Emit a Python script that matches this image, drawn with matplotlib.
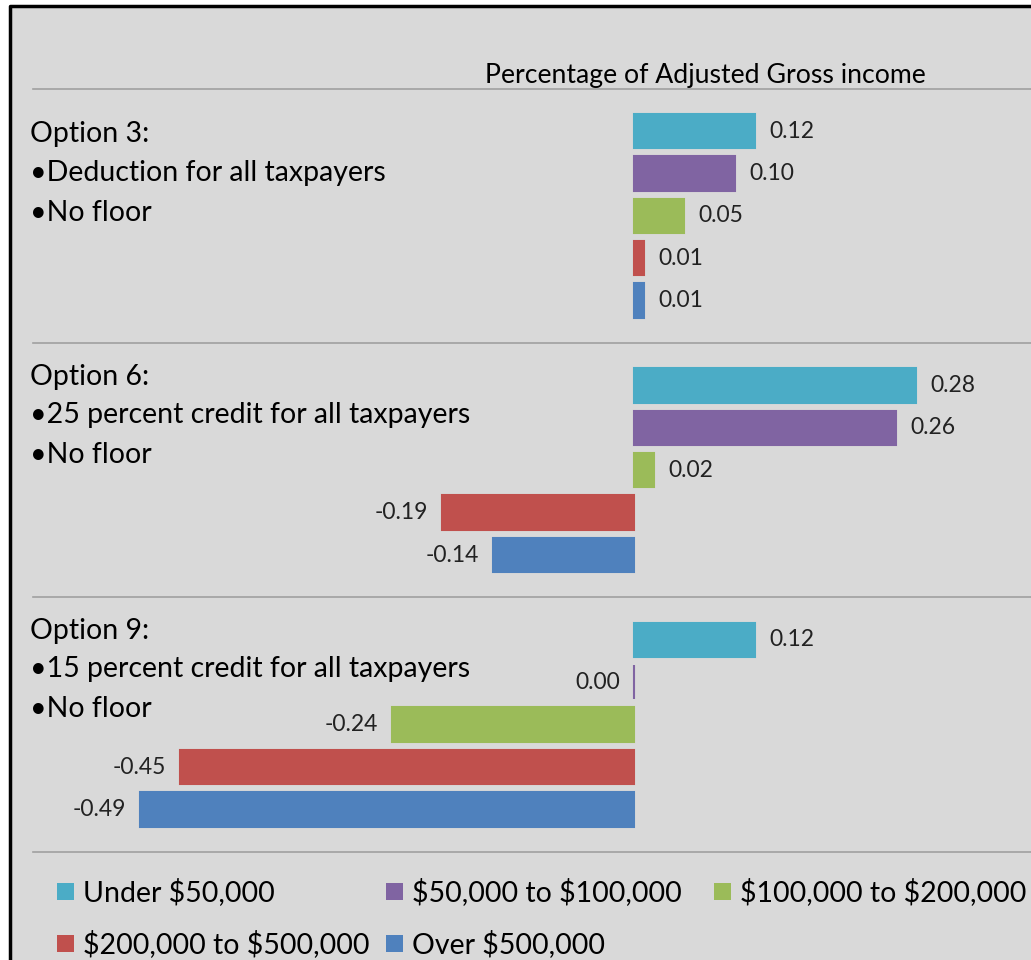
import numpy as np
import matplotlib
matplotlib.use("Agg")
import matplotlib.pyplot as plt
from matplotlib.patches import Rectangle
from matplotlib.lines import Line2D

plt.rcParams["font.family"] = ["Lato", "DejaVu Sans"]

# Change in after-tax income, percentage of AGI, by income group
groups = ["Under $50,000", "$50,000 to $100,000", "$100,000 to $200,000",
          "$200,000 to $500,000", "Over $500,000"]
colors = ["#4bacc6", "#8064a2", "#9bbb59", "#c0504d", "#4f81bd"]

option_titles = ["Option 3:", "Option 6:", "Option 9:"]
option_lines = [
    ["\u2022Deduction for all taxpayers", "\u2022No floor"],
    ["\u202225 percent credit for all taxpayers", "\u2022No floor"],
    ["\u202215 percent credit for all taxpayers", "\u2022No floor"],
]
opt3 = [0.12, 0.10, 0.05, 0.01, 0.01]
opt6 = [0.28, 0.26, 0.02, -0.19, -0.14]
opt9 = [0.12, 0.00, -0.24, -0.45, -0.49]
values = [opt3, opt6, opt9]

W, H = 1031, 960
fig = plt.figure(figsize=(W / 100, H / 100), dpi=100, facecolor="white")

# grey panel with black frame on left/top
fig.patches.append(Rectangle((10 / W, 0), 1, 1 - 6 / H, transform=fig.transFigure,
                             facecolor="#d9d9d9", edgecolor="none", zorder=-10))
fig.lines.append(Line2D([10 / W, 10 / W, 1.0], [0, 1 - 6 / H, 1 - 6 / H],
                        transform=fig.transFigure, color="black", lw=2.5, zorder=5))

ax = fig.add_axes([0, 0, 1, 1])
ax.set_facecolor("none")
px_per_unit = 1008.0
zero_px = 634.0
ax.set_xlim(-zero_px / px_per_unit, (W - zero_px) / px_per_unit)
slot_px = 42.4
first_px = 131.0
ax.set_ylim((H - first_px) / slot_px, -first_px / slot_px)
ax.axis("off")

trans_x_axes = ax.get_yaxis_transform()  # x in axes coords, y in data

for g, vals in enumerate(values):
    base = g * 6
    for i, v in enumerate(vals):
        y = base + i
        ax.barh(y, v, height=0.81, color=colors[i], edgecolor=colors[i], linewidth=1.5)
        label = f"{v:.2f}"
        if v > 0:
            ax.text(v + 0.014, y, label, ha="left", va="center", fontsize=16.5, color="#222222")
        else:
            ax.text(v - 0.014, y, label, ha="right", va="center", fontsize=16.5, color="#222222")
    if g == 0:
        top, first_gap = base + 0.06, 0.94
    else:
        top, first_gap = base - 0.2, 0.9
    ax.text(30 / W, top, option_titles[g],
            transform=trans_x_axes, ha="left", va="center", fontsize=20.5, color="black")
    for k, line in enumerate(option_lines[g]):
        ax.text(30 / W, top + first_gap + 0.94 * k, line,
                transform=trans_x_axes, ha="left", va="center", fontsize=20.5, color="black")

# separators between options
for ys in [-1, 5, 11, 17]:
    ax.plot([33 / W, 1.0], [ys, ys], transform=trans_x_axes, color="#a0a0a0", lw=1.2)

ax.text(705 / W, -1.13, "Percentage of Adjusted Gross income", transform=trans_x_axes,
        ha="center", va="baseline", fontsize=19.2, color="black")

# legend, two rows
legend_pos = [(57, 892), (386, 892), (714, 892), (57, 944), (386, 944)]
for (lx, ly), name, c in zip(legend_pos, groups, colors):
    fig.patches.append(Rectangle((lx / W, 1 - (ly + 8) / H), 17 / W, 17 / H,
                                 transform=fig.transFigure, facecolor=c, edgecolor="none"))
    fig.text((lx + 26) / W, 1 - ly / H, name, ha="left", va="center",
             fontsize=20.5, color="black", parse_math=False)

fig.savefig("out.png", dpi=100, facecolor="white")
